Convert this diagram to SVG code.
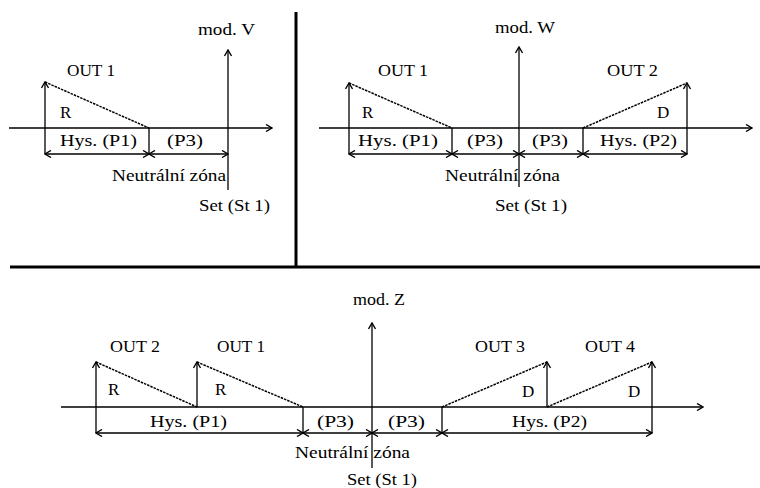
<svg xmlns="http://www.w3.org/2000/svg" width="760" height="488" viewBox="0 0 760 488">
<style>
.l{stroke:#000;stroke-width:1.3;fill:none}
.d{stroke:#000;stroke-width:1.5;fill:none;stroke-dasharray:2.5 1}
.a{marker-end:url(#ah)}
.b{marker-start:url(#ah);marker-end:url(#ah)}
.sep{stroke:#000;stroke-width:3;fill:none}
text{font-family:"Liberation Serif","Times New Roman",serif;font-size:17px;fill:#000}
</style>
<defs>
<marker id="ah" viewBox="0 0 8 8" refX="7" refY="4" markerWidth="8" markerHeight="8" markerUnits="userSpaceOnUse" orient="auto-start-reverse">
<path d="M1,0.5 L7,4 L1,7.5" fill="none" stroke="#000" stroke-width="1.4"/>
</marker>
</defs>
<rect width="760" height="488" fill="#fff"/>
<g id="separators">
<line class="sep" x1="296" y1="12" x2="296" y2="267"/>
<line class="sep" x1="10" y1="267" x2="760" y2="267"/>
</g>
<g id="connectors">
<line class="l a" x1="9" y1="128" x2="272" y2="128"/>
<line class="l a" x1="228" y1="190" x2="228" y2="50"/>
<line class="l a" x1="45" y1="154" x2="45" y2="82"/>
<line class="d" x1="45" y1="82" x2="149" y2="128"/>
<line class="l" x1="149" y1="128" x2="149" y2="154"/>
<line class="l b" x1="45" y1="154" x2="149" y2="154"/>
<line class="l b" x1="149" y1="154" x2="228" y2="154"/>
<line class="l a" x1="319" y1="128" x2="752" y2="128"/>
<line class="l a" x1="519" y1="187" x2="519" y2="47"/>
<line class="l a" x1="349" y1="154" x2="349" y2="83"/>
<line class="d" x1="349" y1="83" x2="452" y2="128"/>
<line class="l" x1="452" y1="128" x2="452" y2="154"/>
<line class="l" x1="583" y1="128" x2="583" y2="154"/>
<line class="d" x1="583" y1="128" x2="687" y2="83"/>
<line class="l a" x1="687" y1="154" x2="687" y2="83"/>
<line class="l b" x1="349" y1="154" x2="452" y2="154"/>
<line class="l b" x1="452" y1="154" x2="519" y2="154"/>
<line class="l b" x1="519" y1="154" x2="583" y2="154"/>
<line class="l b" x1="583" y1="154" x2="687" y2="154"/>
<line class="l a" x1="61" y1="407" x2="703" y2="407"/>
<line class="l a" x1="372" y1="468" x2="372" y2="323"/>
<line class="l a" x1="96" y1="433" x2="96" y2="362"/>
<line class="d" x1="96" y1="362" x2="197" y2="407"/>
<line class="l a" x1="197" y1="407" x2="197" y2="362"/>
<line class="d" x1="197" y1="362" x2="303" y2="407"/>
<line class="l" x1="303" y1="407" x2="303" y2="433"/>
<line class="l" x1="442" y1="407" x2="442" y2="433"/>
<line class="d" x1="442" y1="407" x2="547" y2="362"/>
<line class="l a" x1="547" y1="407" x2="547" y2="362"/>
<line class="d" x1="547" y1="407" x2="652" y2="362"/>
<line class="l a" x1="652" y1="433" x2="652" y2="362"/>
<line class="l b" x1="96" y1="433" x2="303" y2="433"/>
<line class="l b" x1="303" y1="433" x2="372" y2="433"/>
<line class="l b" x1="372" y1="433" x2="442" y2="433"/>
<line class="l b" x1="442" y1="433" x2="652" y2="433"/>
</g>
<g id="panelV">
<text x="198" y="35" textLength="57" lengthAdjust="spacingAndGlyphs">mod. V</text>
<text x="67" y="76" textLength="48" lengthAdjust="spacingAndGlyphs">OUT 1</text>
<text x="60" y="118">R</text>
<text x="60" y="146" textLength="77" lengthAdjust="spacingAndGlyphs">Hys. (P1)</text>
<text x="167" y="146" textLength="36" lengthAdjust="spacingAndGlyphs">(P3)</text>
<text x="112" y="181" textLength="114" lengthAdjust="spacingAndGlyphs">Neutrální zóna</text>
<text x="199" y="211" textLength="71" lengthAdjust="spacingAndGlyphs">Set (St 1)</text>
</g>
<g id="panelW">
<text x="495" y="33" textLength="60" lengthAdjust="spacingAndGlyphs">mod. W</text>
<text x="378" y="76" textLength="50" lengthAdjust="spacingAndGlyphs">OUT 1</text>
<text x="607" y="76" textLength="51" lengthAdjust="spacingAndGlyphs">OUT 2</text>
<text x="362" y="118">R</text>
<text x="657" y="118">D</text>
<text x="358" y="146" textLength="80" lengthAdjust="spacingAndGlyphs">Hys. (P1)</text>
<text x="467" y="146" textLength="36" lengthAdjust="spacingAndGlyphs">(P3)</text>
<text x="532" y="146" textLength="36" lengthAdjust="spacingAndGlyphs">(P3)</text>
<text x="600" y="146" textLength="77" lengthAdjust="spacingAndGlyphs">Hys. (P2)</text>
<text x="445" y="181" textLength="115" lengthAdjust="spacingAndGlyphs">Neutrální zóna</text>
<text x="495" y="211" textLength="72" lengthAdjust="spacingAndGlyphs">Set (St 1)</text>
</g>
<g id="panelZ">
<text x="353" y="305" textLength="52" lengthAdjust="spacingAndGlyphs">mod. Z</text>
<text x="110" y="352" textLength="50" lengthAdjust="spacingAndGlyphs">OUT 2</text>
<text x="217" y="352" textLength="48" lengthAdjust="spacingAndGlyphs">OUT 1</text>
<text x="475" y="352" textLength="50" lengthAdjust="spacingAndGlyphs">OUT 3</text>
<text x="585" y="352" textLength="50" lengthAdjust="spacingAndGlyphs">OUT 4</text>
<text x="108" y="395">R</text>
<text x="215" y="395">R</text>
<text x="522" y="397">D</text>
<text x="628" y="397">D</text>
<text x="150" y="427" textLength="77" lengthAdjust="spacingAndGlyphs">Hys. (P1)</text>
<text x="317" y="427" textLength="37" lengthAdjust="spacingAndGlyphs">(P3)</text>
<text x="388" y="427" textLength="37" lengthAdjust="spacingAndGlyphs">(P3)</text>
<text x="512" y="427" textLength="75" lengthAdjust="spacingAndGlyphs">Hys. (P2)</text>
<text x="295" y="458" textLength="115" lengthAdjust="spacingAndGlyphs">Neutrální zóna</text>
<text x="347" y="485" textLength="70" lengthAdjust="spacingAndGlyphs">Set (St 1)</text>
</g>
</svg>
